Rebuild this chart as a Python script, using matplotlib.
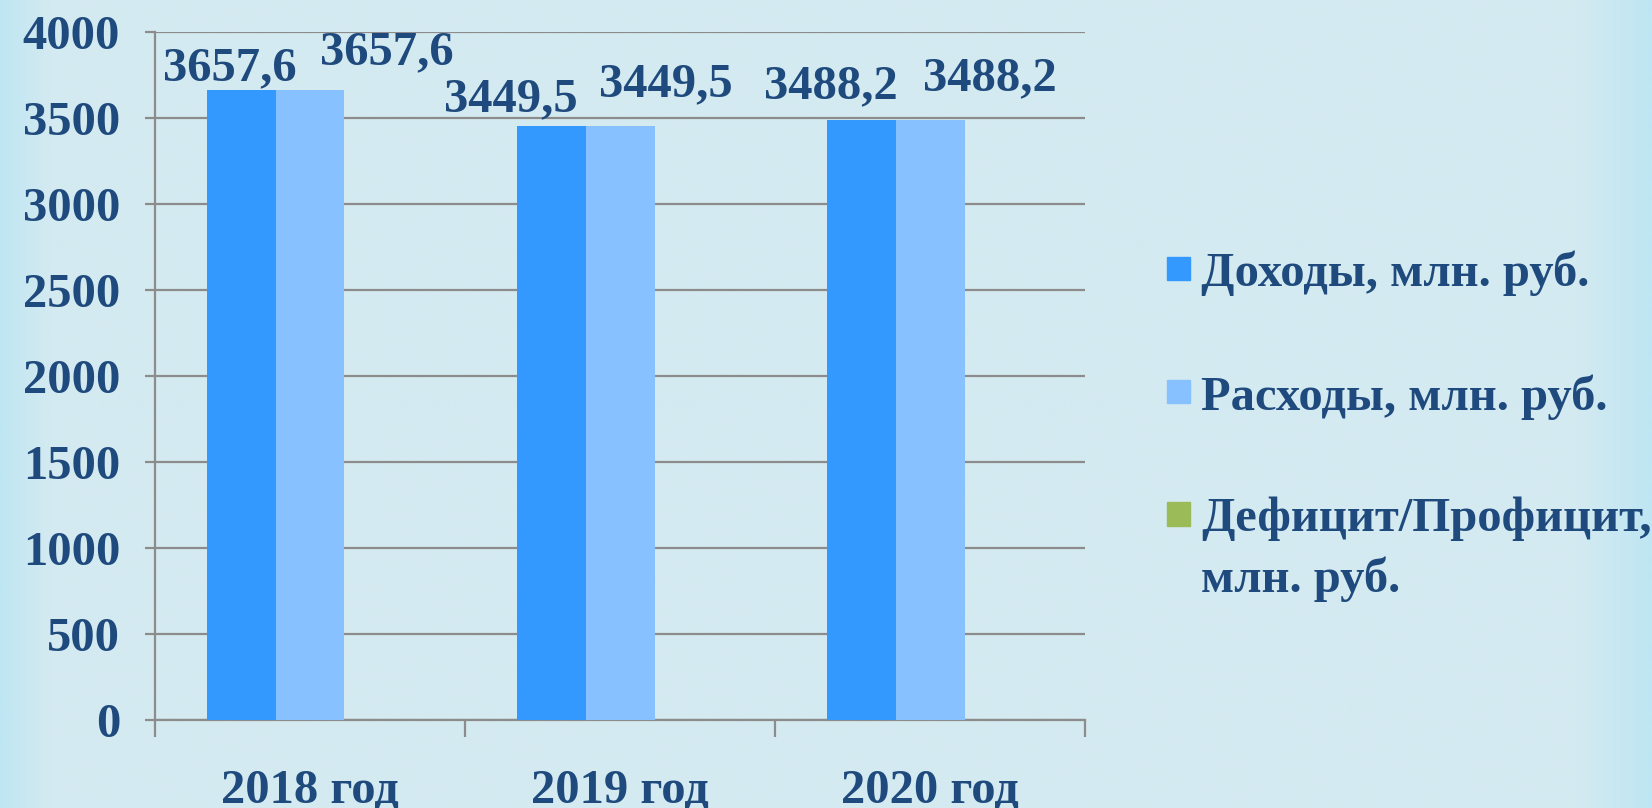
#!/usr/bin/env python3
"""Budget bar chart: income / expenses / deficit by year."""
import matplotlib
matplotlib.use("Agg")
import matplotlib.pyplot as plt
from matplotlib.patches import Rectangle
import numpy as np

years = ["2018 год", "2019 год", "2020 год"]
income = [3657.6, 3449.5, 3488.2]
expenses = [3657.6, 3449.5, 3488.2]
deficit = [0.0, 0.0, 0.0]
series_names = ["Доходы, млн. руб.", "Расходы, млн. руб.", "Дефицит/Профицит,\nмлн. руб."]

TEXT = "#1F4A7D"
GRID = "#8C8C8C"
BG = "#D4EAF1"
COLORS = ["#3399FF", "#88C1FF", "#9BBB59"]

plt.rcParams["font.family"] = ["Liberation Serif", "DejaVu Serif"]
plt.rcParams["font.weight"] = "bold"
FS = 35

fig = plt.figure(figsize=(16.52, 8.08), dpi=100, facecolor=BG)

# background with soft cyan edges
bg = fig.add_axes([0, 0, 1, 1], zorder=-10)
xs = np.linspace(0, 1, 800)
edge = np.clip(1 - xs / 0.03, 0, 1) + np.clip((xs - 0.955) / 0.045, 0, 1)
c0 = np.array([0xD4, 0xEA, 0xF1]) / 255
c1 = np.array([0xBE, 0xE6, 0xF3]) / 255
grad = c0[None, :] * (1 - edge[:, None]) + c1[None, :] * edge[:, None]
bg.imshow(grad[None, :, :], aspect="auto", extent=[0, 1, 0, 1])
bg.axis("off")

ax = fig.add_axes([0.0938, 0.1095, 0.657 - 0.0938, 0.9609 - 0.1095])
ax.set_facecolor("none")

x = np.arange(len(years))
w = 0.6667 / 3
b1 = ax.bar(x - w, income, w, color=COLORS[0], zorder=3)
b2 = ax.bar(x, expenses, w, color=COLORS[1], zorder=3)
b3 = ax.bar(x + w, deficit, w, color=COLORS[2], zorder=3)

ax.set_xlim(-0.5, len(years) - 0.5)
ax.set_ylim(0, 4000)
ax.set_yticks(np.arange(0, 4001, 500))
ax.grid(True, axis="y", color=GRID, linewidth=1.6, zorder=0)
ax.tick_params(axis="y", length=7, width=1.6, color=GRID, pad=18,
               labelsize=FS, labelcolor=TEXT)

# category boundaries as ticks, labels at centers
ax.set_xticks(np.arange(-0.5, len(years)), labels=[""] * (len(years) + 1))
ax.set_xticks(x, labels=years, minor=True)
ax.tick_params(axis="x", which="major", length=12, width=1.6, color=GRID, direction="out")
ax.tick_params(axis="x", which="minor", length=0, pad=35, labelsize=FS, labelcolor=TEXT)

for s in ["top", "right"]:
    ax.spines[s].set_visible(False)
for s in ["left", "bottom"]:
    ax.spines[s].set_color(GRID)
    ax.spines[s].set_linewidth(1.6)

# data labels (manually nudged like the original)
off1 = [(-11, 22), (-40, 27), (-30, 33)]
off2 = [(77, 38), (46, 42), (60, 41)]
for bars, offs in [(b1, off1), (b2, off2)]:
    for bar, (dx, dy) in zip(bars, offs):
        h = bar.get_height()
        ax.annotate(f"{h:.1f}".replace(".", ","),
                    (bar.get_x() + bar.get_width() / 2, h),
                    xytext=(dx, dy), textcoords="offset pixels",
                    ha="center", va="center", fontsize=FS, color=TEXT,
                    fontweight="bold", annotation_clip=False)

# legend drawn by hand so the multi-line entry keeps its square on the first line
leg_y = [0.6675, 0.515, 0.3638]
line_step = 0.0743
sq_w, sq_h = 0.0140, 0.0287
for name, color, yc in zip(series_names, COLORS, leg_y):
    fig.patches.append(Rectangle((0.7066, yc - sq_h / 2), sq_w, sq_h,
                                 transform=fig.transFigure, color=color))
    for i, line in enumerate(name.split("\n")):
        fig.text(0.727, yc - i * line_step, line, ha="left", va="center_baseline",
                 fontsize=FS, color=TEXT, fontweight="bold")

plt.savefig("out.png", dpi=100, facecolor=BG)
plt.close()
print("Saved: out.png")
